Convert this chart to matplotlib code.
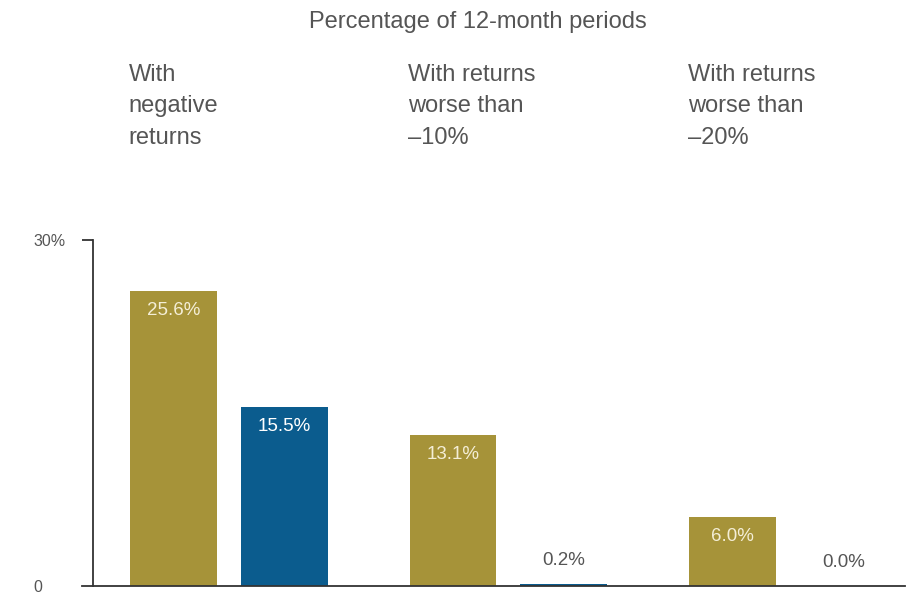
import matplotlib.pyplot as plt
import numpy as np

# data
headers = ["With\nnegative\nreturns",
           "With returns\nworse than\n\u201310%",
           "With returns\nworse than\n\u201320%"]
gold_vals = [25.6, 13.1, 6.0]
blue_vals = [15.5, 0.2, 0.0]
title = "Percentage of 12-month periods"

GOLD = "#a69339"
BLUE = "#0b5c8e"
GREY = "#555555"

plt.rcParams['font.family'] = ['Liberation Sans', 'DejaVu Sans']

fig = plt.figure(figsize=(9.14, 5.94), dpi=100)
ax = fig.add_axes([82 / 914, 8 / 594, (905 - 82) / 914, (586 - 240) / 594])

x = np.arange(len(gold_vals))
off = 0.198
w = 0.31
ax.bar(x - off, gold_vals, width=w, color=GOLD)
ax.bar(x + off, blue_vals, width=w, color=BLUE)

def label(xpos, v, inside_color):
    if v > 5:
        ax.annotate(f"{v:.1f}%", (xpos, v), xytext=(0, -14), textcoords="offset points",
                    ha="center", va="center", color=inside_color, fontsize=13.5)
    else:
        ax.annotate(f"{v:.1f}%", (xpos, v), xytext=(0, 17), textcoords="offset points",
                    ha="center", va="center", color=GREY, fontsize=13.5)

for i in x:
    label(i - off, gold_vals[i], "#f4eed6")
    label(i + off, blue_vals[i], "white")

ax.set_xlim(-0.526, 2.419)
ax.set_ylim(0, 30)
ax.spines['top'].set_visible(False)
ax.spines['right'].set_visible(False)
ax.spines['left'].set_position(('data', -0.487))
ax.spines['left'].set_color("#333333")
ax.spines['bottom'].set_color("#333333")
ax.spines['left'].set_linewidth(1.3)
ax.spines['bottom'].set_linewidth(1.3)
ax.set_xticks([])
ax.set_yticks([0, 30])
ax.set_yticklabels(["0", "30%"])
ax.tick_params(axis='y', length=8, width=1.3, color="#333333", pad=35,
               labelsize=11.5, labelcolor=GREY)
for t in ax.get_yticklabels():
    t.set_ha("left")
ax.yaxis.get_major_ticks()[0].tick1line.set_visible(False)

fig.text(478 / 914, 1 - 22 / 594, title, ha="center", va="center",
         fontsize=17, color=GREY)
for i, h in enumerate(headers):
    fig.text((i - off) * 279.5 / 914 + (229 - 45) / 914, 1 - 64 / 594, h,
             ha="left", va="top", fontsize=17, color=GREY, linespacing=1.55)

fig.savefig("out.png", dpi=100)
